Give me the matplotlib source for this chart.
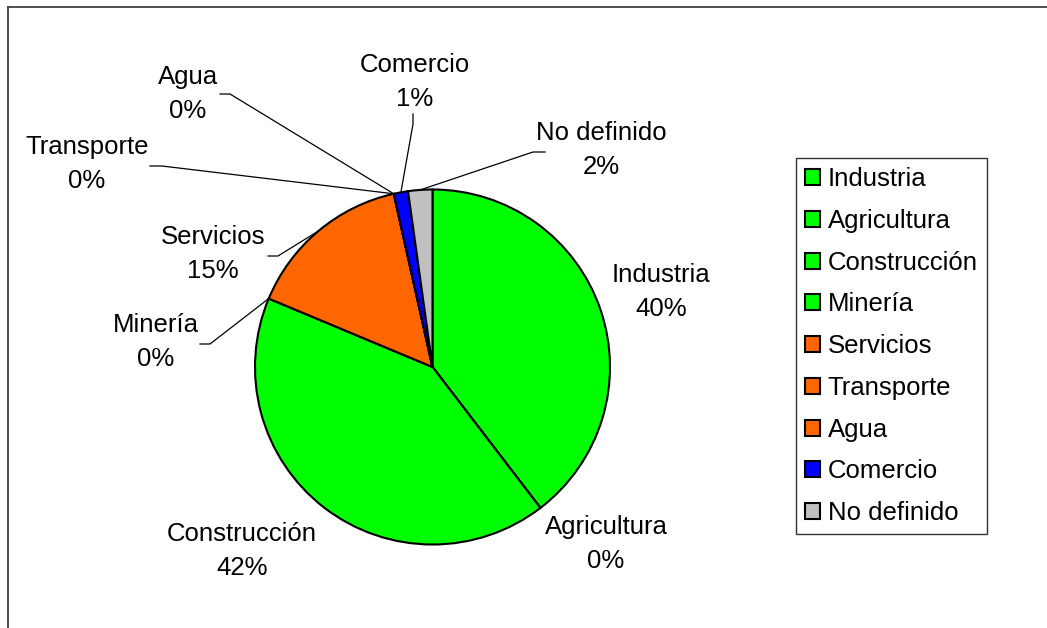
import numpy as np
import matplotlib.pyplot as plt
from matplotlib.lines import Line2D

plt.rcParams['font.family'] = ['Liberation Sans', 'DejaVu Sans']

# data
sectors = ['Industria', 'Agricultura', 'Construcción', 'Minería', 'Servicios',
           'Transporte', 'Agua', 'Comercio', 'No definido']
shares = [39.6, 0, 41.7, 0, 15.2, 0, 0, 1.3, 2.2]
colors = ['#00FF00', '#00FF00', '#00FF00', '#00FF00', '#FF6600',
          '#FF6600', '#FF6600', '#0000FF', '#C0C0C0']

# label centres (pixels) and leader anchor/elbow (pixels), None = no leader
label_xy = [(661, 292), (606, 544), (242, 551), (156, 342), (213, 254),
            (87, 164), (188, 94), (415, 82), (601, 150)]
leaders = [None, None, None,
           [(200, 344), (210, 344)],
           [(268, 256), (278, 256)],
           [(150, 166), (162, 166)],
           [(220, 94), (230, 94)],
           [(413, 114), (413, 124)],
           [(545, 152), (533, 152)]]

W, H = 1047, 628
CX, CY, R = 432.5, 367, 177.5
FS = 18.5

fig = plt.figure(figsize=(W / 100, H / 100), dpi=100)

# outer border (top and left only visible)
fig.add_artist(Line2D([8 / W, 1], [1 - 7 / H, 1 - 7 / H], color='#404040', lw=1.3))
fig.add_artist(Line2D([8 / W, 8 / W], [0, 1 - 7 / H], color='#404040', lw=1.3))

ax = fig.add_axes([(CX - R) / W, (H - CY - R) / H, 2 * R / W, 2 * R / H])
wedges, _ = ax.pie(shares, colors=colors, startangle=90, counterclock=False,
                   radius=1, wedgeprops=dict(edgecolor='black', linewidth=1.5))
ax.set_xlim(-1, 1)
ax.set_ylim(-1, 1)
ax.axis('off')


def to_data(p):
    return ((p[0] - CX) / R, (CY - p[1]) / R)


for i, name in enumerate(sectors):
    x, y = to_data(label_xy[i])
    ax.text(x, y, f'{name}\n{shares[i]:.0f}%', ha='center', va='center',
            fontsize=FS, linespacing=1.49, clip_on=False)
    if leaders[i] is not None:
        w = wedges[i]
        mid = np.deg2rad((w.theta1 + w.theta2) / 2)
        a = to_data(leaders[i][0])
        b = to_data(leaders[i][1])
        ax.plot([a[0], b[0], np.cos(mid)], [a[1], b[1], np.sin(mid)],
                color='black', lw=0.9, clip_on=False)

leg = fig.legend(wedges, sectors, loc='upper left',
                 bbox_to_anchor=(796 / W, 1 - 158 / H), fontsize=FS,
                 frameon=True, fancybox=False, edgecolor='black',
                 handlelength=0.58, handleheight=0.58, handletextpad=0.3,
                 labelspacing=0.69, borderpad=0.36, borderaxespad=0)
leg.get_frame().set_linewidth(1.0)

fig.savefig('out.png', dpi=100)
